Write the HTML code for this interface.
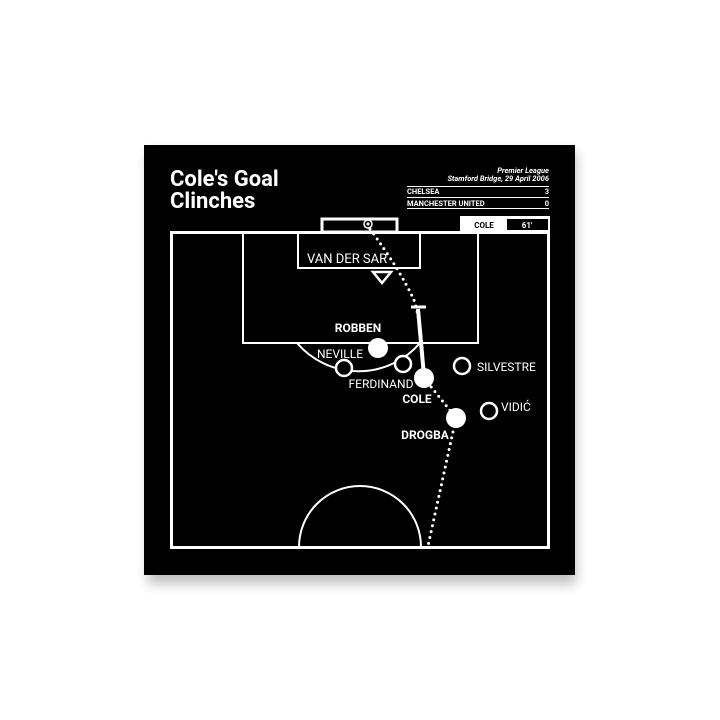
<!DOCTYPE html>
<html><head><meta charset="utf-8"><style>
html,body{margin:0;padding:0;background:#fff;width:720px;height:720px;overflow:hidden}
</style></head><body>
<svg width="720" height="720" viewBox="0 0 720 720" xmlns="http://www.w3.org/2000/svg" style="display:block">
<defs><filter id="sh" x="-10%" y="-10%" width="120%" height="130%"><feGaussianBlur stdDeviation="6"/></filter></defs>
<rect x="148" y="152" width="428" height="432" fill="#000" opacity="0.25" filter="url(#sh)"/>
<rect x="144" y="145" width="431" height="430" fill="#000"/>
<g font-family="Roboto, 'Liberation Sans', sans-serif" fill="#fff">
<text x="170" y="186" font-size="22" font-weight="bold">Cole's Goal</text>
<text x="170" y="208" font-size="22" font-weight="bold">Clinches</text>
<text x="549" y="173" font-size="7.5" font-weight="bold" font-style="italic" text-anchor="end">Premier League</text>
<text x="549" y="181" font-size="7.5" font-weight="bold" font-style="italic" text-anchor="end">Stamford Bridge, 29 April 2006</text>
<text x="407" y="194" font-size="7.5" font-weight="bold">CHELSEA</text>
<text x="549" y="194" font-size="7.5" font-weight="bold" text-anchor="end">3</text>
<text x="407" y="206" font-size="7.5" font-weight="bold">MANCHESTER UNITED</text>
<text x="549" y="206" font-size="7.5" font-weight="bold" text-anchor="end">0</text>
</g>
<g stroke="#fff" stroke-width="1"><line x1="407" y1="186.5" x2="549" y2="186.5"/><line x1="407" y1="197.5" x2="549" y2="197.5"/><line x1="407" y1="208.5" x2="549" y2="208.5"/></g>
<rect x="460" y="216" width="90" height="16" fill="#fff"/>
<rect x="507" y="219" width="41" height="11" fill="#000"/>
<text x="484" y="228" font-family="Roboto, 'Liberation Sans', sans-serif" font-size="8" font-weight="bold" text-anchor="middle" fill="#000">COLE</text>
<text x="527" y="228" font-family="Roboto, 'Liberation Sans', sans-serif" font-size="8" font-weight="bold" text-anchor="middle" fill="#fff">61'</text>
<g fill="none" stroke="#fff" stroke-width="3">
<rect x="171.5" y="232.5" width="377" height="315"/>
<rect x="322" y="219" width="75" height="13"/>
</g>
<g fill="none" stroke="#fff" stroke-width="2">
<rect x="243" y="233" width="235" height="110"/>
<rect x="298" y="233" width="122" height="35"/>
<path d="M297 343 A81 81 0 0 0 420 343"/>
<path d="M299 547 A61 61 0 0 1 421 547"/>
</g>
<circle cx="368" cy="224" r="4" fill="none" stroke="#fff" stroke-width="1.5"/>
<circle cx="368" cy="224" r="1.5" fill="#fff"/>
<path d="M373 272 L391 272 L382 283 Z" fill="none" stroke="#fff" stroke-width="2.5"/>
<text x="307" y="263" font-family="Roboto, 'Liberation Sans', sans-serif" font-size="13" fill="#fff">VAN DER SAR</text>
<path d="M370 229 Q400 270 414 300 Q422 325 424 378 L456 418 L428 546" fill="none" stroke="#fff" stroke-width="3" stroke-linecap="round" stroke-dasharray="0 6"/>
<g stroke="#fff" stroke-width="4"><line x1="418" y1="309" x2="424" y2="376"/><line x1="411" y1="307" x2="426" y2="307" stroke-width="3"/></g>
<g fill="#fff"><circle cx="378" cy="348" r="10"/><circle cx="424" cy="378" r="10"/><circle cx="456" cy="418" r="10"/></g>
<g fill="#000" stroke="#fff" stroke-width="2.5"><circle cx="344" cy="368" r="8"/><circle cx="403" cy="364" r="8"/><circle cx="462" cy="366" r="8"/><circle cx="489" cy="411" r="8"/></g>
<g font-family="Roboto, 'Liberation Sans', sans-serif" font-size="12" font-weight="bold" fill="#fff">
<text x="358" y="332" text-anchor="middle">ROBBEN</text>
<text x="417" y="403" text-anchor="middle">COLE</text>
<text x="425" y="439" text-anchor="middle">DROGBA</text>
</g>
<g font-family="Roboto, 'Liberation Sans', sans-serif" font-size="12" fill="#fff">
<text x="340" y="358" text-anchor="middle">NEVILLE</text>
<text x="381" y="388" text-anchor="middle">FERDINAND</text>
<text x="477" y="371">SILVESTRE</text>
<text x="501" y="411">VIDIĆ</text>
</g>
</svg>
</body></html>
